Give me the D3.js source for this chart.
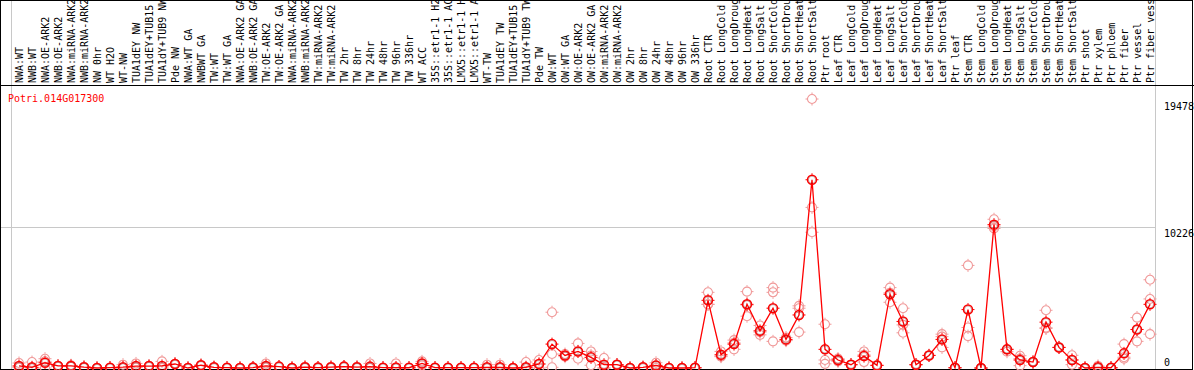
<!DOCTYPE html>
<html>
<head>
<meta charset="utf-8">
<script src="https://cdn.jsdelivr.net/npm/d3@7"></script>
<style>
  body { margin: 0; background: #fff; }
  svg { display: block; font-family: "DejaVu Sans Mono", "Liberation Mono", monospace; font-size: 10px; }
</style>
</head>
<body>
<div id="chart"></div>
<script>
"use strict";
const geneId = 'Potri.014G017300';
// labels as printed (the chart cuts them at 14 characters)
const labels = [
    'NWA:WT', 'NWB:WT', 'NWA:OE-ARK2', 'NWB:OE-ARK2', 'NWA:miRNA-ARK2', 'NWB:miRNA-ARK2', 'NW 0hr',
    'WT H2O', 'WT-NW', 'TUA1dEY NW', 'TUA1dEY+TUB15', 'TUA1dY+TUB9 NW', 'Pde NW',
    'NWA:WT GA', 'NWBWT GA', 'TW:WT', 'TW:WT GA', 'NWA:OE-ARK2 GA', 'NWB:OE-ARK2 GA', 'TW:OE-ARK2',
    'TW:OE-ARK2 GA', 'NWA:miRNA-ARK2', 'NWB:miRNA-ARK2', 'TW:miRNA-ARK2', 'TW:miRNA-ARK2', 'TW 2hr',
    'TW 8hr', 'TW 24hr', 'TW 48hr', 'TW 96hr', 'TW 336hr', 'WT ACC', '35S::etr1-1 H2', '35S::etr1-1 AC',
    'LMX5::etr1-1 H', 'LMX5::etr1-1 A', 'WT-TW', 'TUA1dEY TW', 'TUA1dEY+TUB15', 'TUA1dY+TUB9 TW', 'Pde TW',
    'OW:WT', 'OW:WT GA', 'OW:OE-ARK2', 'OW:OE-ARK2 GA', 'OW:miRNA-ARK2', 'OW:miRNA-ARK2', 'OW 2hr',
    'OW 8hr', 'OW 24hr', 'OW 48hr', 'OW 96hr', 'OW 336hr',
    'Root CTR', 'Root LongCold', 'Root LongDroug', 'Root LongHeat', 'Root LongSalt', 'Root ShortCold',
    'Root ShortDrou', 'Root ShortHeat', 'Root ShortSalt', 'Ptr root',
    'Leaf CTR', 'Leaf LongCold', 'Leaf LongDroug', 'Leaf LongHeat', 'Leaf LongSalt', 'Leaf ShortCold',
    'Leaf ShortDrou', 'Leaf ShortHeat', 'Leaf ShortSalt', 'Ptr leaf',
    'Stem CTR', 'Stem LongCold', 'Stem LongDroug', 'Stem LongHeat', 'Stem LongSalt', 'Stem ShortCold',
    'Stem ShortDrou', 'Stem ShortHeat', 'Stem ShortSalt', 'Ptr shoot',
    'Ptr xylem', 'Ptr phloem', 'Ptr fiber', 'Ptr vessel', 'Ptr fiber vess'
];
// number of columns in each boxed group
const groupSizes = [13, 28, 12, 10, 10, 10, 1, 1, 1, 1, 1];
const means = [
    150, 50, 380, 150, 150, 60, 0, 20, 60, 140, 140, 150, 290,
    0, 200, 50, 20, 0, 30, 150, 100, 0, 60, 30, 60, 100, 60, 100, 20, 30,
    20, 330, 20, 20, 20, 20, 50, 50, 0, 50, 290,
    1730, 910, 1200, 770, 240, 240, 0, 50, 190, 0, 0, 20,
    4900, 960, 1730, 4610, 2690, 4330, 2070, 3840, 13630, 1350,
    580, 240, 860, 190, 5340, 3370, 240, 910, 2070, 20,
    4230, 0, 10380, 1350, 580, 430, 3320, 1490, 580, 0,
    50, 20, 1060, 2790, 4610
];
const replicates = [
    [360, 60, 30], [430, 0, 0], [670, 480, 0], [150, 150, 150], [150, 100, 200], [60, 60, 60], [0, 0, 0],
    [20, 20, 20], [240, 0, 0], [330, 60, 30], [150, 150, 120], [480, 0, 0], [290, 290, 290],
    [0, 0, 0], [200, 200, 200], [50, 50, 50], [20, 20, 20], [0, 0, 0], [30, 30, 30], [330, 100, 20],
    [100, 100, 100], [0, 0, 0], [60, 60, 60], [30, 30, 30], [60, 60, 60], [100, 100, 100], [60, 60, 60],
    [330, 0, 0], [20, 20, 20], [330, 0, 0],
    [20, 20, 20], [480, 330, 180], [20, 20, 20], [20, 20, 20], [20, 20, 20], [20, 20, 20], [240, 0, 0],
    [240, 0, 0], [0, 0, 0], [430, 0, 0], [580, 290, 0],
    [4040, 1010, 50], [1010, 910, 820], [1780, 670, 1200], [1200, 910, 200], [720, 0, 0], [240, 240, 240],
    [0, 0, 0], [50, 50, 50], [380, 190, 0], [0, 0, 0], [0, 0, 0], [20, 20, 20],
    [5480, 4610, 4610], [1200, 820, 860], [2020, 1350, 1820], [5530, 3750, 4560], [3080, 2400, 2600],
    [5820, 5480, 1930], [2210, 2020, 1980], [4500, 4330, 2600], [19478, 11630, 9830], [3170, 580, 300],
    [580, 480, 680], [240, 240, 240], [1200, 430, 950], [190, 190, 190], [5820, 4760, 5440],
    [4330, 3120, 2550], [240, 240, 240], [910, 910, 910], [2450, 1490, 2270], [20, 20, 20],
    [7430, 2930, 2310], [0, 0, 0], [10770, 10100, 10270], [1350, 1350, 1180], [890, 170, 680],
    [430, 430, 430], [4180, 2860, 2920], [1490, 1490, 1490], [580, 240, 920], [0, 0, 0],
    [150, 0, 0], [20, 20, 20], [1730, 670, 780], [3650, 1930, 2790], [6390, 5000, 2450]
];
const yTicks = [0, 10226, 19478];

const width = 1194;
const height = 370;
const x = d3.scaleBand()
    .domain(d3.range(labels.length))
    .range([11, 1155]);
const cx = i => x(i) + 8;
const y = d3.scaleLinear()
    .domain([0, 19478])
    .range([368, 99]);

const svg = d3.select('#chart').append('svg')
    .attr('width', width)
    .attr('height', height);

// group separators (gray, full height)
const bounds = [0].concat(d3.cumsum(groupSizes));
svg.append('g').selectAll('line')
    .data(bounds)
    .join('line')
    .attr('x1', d => (d < labels.length ? x(d) : x.range()[1]) + 0.5)
    .attr('x2', d => (d < labels.length ? x(d) : x.range()[1]) + 0.5)
    .attr('y1', 0)
    .attr('y2', height)
    .attr('stroke', '#c8c8c8');

// horizontal guide at the middle tick
svg.append('line')
    .attr('x1', 0).attr('x2', x.range()[1])
    .attr('y1', Math.round(y(yTicks[1])) + 0.5)
    .attr('y2', Math.round(y(yTicks[1])) + 0.5)
    .attr('stroke', '#c8c8c8');

// frame
svg.append('rect')
    .attr('x', 0.5).attr('y', 0.5)
    .attr('width', width - 2).attr('height', height - 1)
    .attr('fill', 'none').attr('stroke', '#000');
svg.append('line')
    .attr('x1', 0).attr('x2', width)
    .attr('y1', 85.5).attr('y2', 85.5)
    .attr('stroke', '#000');

// column labels
svg.append('g').selectAll('text')
    .data(labels)
    .join('text')
    .attr('transform', (d, i) => `translate(${x(i) + 12},83) rotate(-90)`)
    .attr('fill', '#000')
    .text(d => d);

// gene name
svg.append('text')
    .attr('x', 8).attr('y', 102)
    .attr('fill', '#ff0000')
    .text(geneId);

// right axis
const axis = svg.append('g')
    .attr('transform', 'translate(1164,0)')
    .call(d3.axisRight(y).tickValues(yTicks).tickSize(0).tickPadding(0).tickFormat(d3.format('d')));
axis.select('.domain').remove();
axis.selectAll('text')
    .attr('x', 0)
    .attr('font-family', '"DejaVu Sans Mono", monospace')
    .attr('font-size', 10)
    .attr('fill', '#000')
    .attr('dy', d => d === 0 ? '-0.25em' : '1em');

// marker: circle with four little ticks
const marker = (sel, color, width) => {
    sel.append('circle')
        .attr('r', 4.5)
        .attr('fill', 'none')
        .attr('stroke', color)
        .attr('stroke-width', width);
    sel.append('path')
        .attr('d', 'M0,-6.5V-5M0,5V6.5M-6.5,0H-5M5,0H6.5')
        .attr('stroke', color)
        .attr('stroke-width', 1);
};

// replicate points
const repData = replicates.flatMap((r, i) => r.map(v => ({ i, v })));
svg.append('g').selectAll('g')
    .data(repData)
    .join('g')
    .attr('transform', d => `translate(${cx(d.i)},${y(d.v)})`)
    .call(marker, '#f09898', 1.1);

// mean line
svg.append('path')
    .datum(means)
    .attr('fill', 'none')
    .attr('stroke', '#ff0000')
    .attr('stroke-width', 1.3)
    .attr('d', d3.line().x((d, i) => cx(i)).y(d => y(d)));

// mean points
const mg = svg.append('g').selectAll('g')
    .data(means)
    .join('g')
    .attr('transform', (d, i) => `translate(${cx(i)},${y(d)})`);
mg.call(marker, '#ff0000', 1.5);
mg.append('circle')
    .attr('r', 3.6)
    .attr('fill', 'none')
    .attr('stroke', '#600')
    .attr('stroke-width', 0.6)
    .attr('stroke-opacity', 0.5);
</script>
</body>
</html>
